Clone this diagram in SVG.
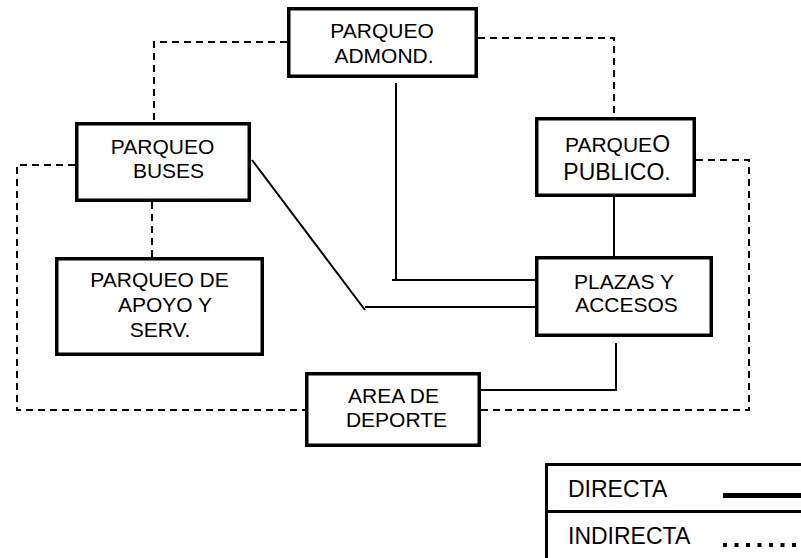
<svg xmlns="http://www.w3.org/2000/svg" width="801" height="558" viewBox="0 0 801 558">
<style>
.box{fill:#fff;stroke:#000;stroke-width:3.5}
.t{font-family:"Liberation Sans",Arial,sans-serif;font-size:21px;fill:#000;text-anchor:middle}
.lt{font-family:"Liberation Sans",Arial,sans-serif;font-size:23px;fill:#000}
.dash{fill:none;stroke:#000;stroke-width:2;stroke-dasharray:7 5}
.solid{fill:none;stroke:#000;stroke-width:2}
</style>
<rect width="801" height="558" fill="#fff"/>
<g id="connectors">
<polyline class="dash" points="287,42 154,42 154,122"/>
<polyline class="dash" points="75,165 17,165 17,410 305,410"/>
<polyline class="dash" points="152,202 152,257"/>
<polyline class="dash" points="478,38 614,38 614,117"/>
<polyline class="dash" points="696,160 749,160 749,410 481,410"/>
<polyline class="solid" points="396,83 396,280"/>
<polyline class="solid" points="392,280 535,280"/>
<polyline class="solid" points="252,160 365,310"/>
<polyline class="solid" points="365,307 535,307"/>
<polyline class="solid" points="614,197 614,263"/>
<polyline class="solid" points="616,343 616,390 479,390"/>
</g>
<g id="parqueo-admond">
<rect class="box" x="288.75" y="8.75" width="187.5" height="67.5"/>
<text class="t" x="382" y="38">PARQUEO</text>
<text class="t" x="384" y="63">ADMOND.</text>
</g>
<g id="parqueo-buses">
<rect class="box" x="76.75" y="123.75" width="172.5" height="76.5"/>
<text class="t" x="162.5" y="154">PARQUEO</text>
<text class="t" x="168.5" y="178">BUSES</text>
</g>
<g id="parqueo-apoyo">
<rect class="box" x="56.75" y="258.75" width="205.5" height="95.5"/>
<text class="t" x="159.5" y="287">PARQUEO DE</text>
<text class="t" x="165" y="312">APOYO Y</text>
<text class="t" x="160" y="337">SERV.</text>
</g>
<g id="parqueo-publico">
<rect class="box" x="536.75" y="118.75" width="157.5" height="76.5"/>
<text class="t" x="565" y="152" style="text-anchor:start">PARQUE<tspan style="font-size:23px">O</tspan></text>
<text class="t" x="617" y="180" style="font-size:23px">PUBLICO.</text>
</g>
<g id="plazas-accesos">
<rect class="box" x="536.75" y="257.75" width="174.5" height="77.5"/>
<text class="t" x="624" y="289">PLAZAS Y</text>
<text class="t" x="626.5" y="312">ACCESOS</text>
</g>
<g id="area-deporte">
<rect class="box" x="306.75" y="373.75" width="172.5" height="71.5"/>
<text class="t" x="393.5" y="403">AREA DE</text>
<text class="t" x="396.5" y="427">DEPORTE</text>
</g>
<g id="legend">
<line x1="545" y1="464.5" x2="801" y2="464.5" stroke="#000" stroke-width="3"/>
<line x1="546.5" y1="463" x2="546.5" y2="558" stroke="#000" stroke-width="3"/>
<line x1="545" y1="511.5" x2="801" y2="511.5" stroke="#000" stroke-width="3"/>
<text class="lt" x="568" y="497">DIRECTA</text>
<line x1="723" y1="495.5" x2="801" y2="495.5" stroke="#000" stroke-width="5"/>
<text class="lt" x="568" y="544">INDIRECTA</text>
<line x1="723" y1="545" x2="801" y2="545" stroke="#000" stroke-width="4" stroke-dasharray="4 7.5"/>
</g>
</svg>
